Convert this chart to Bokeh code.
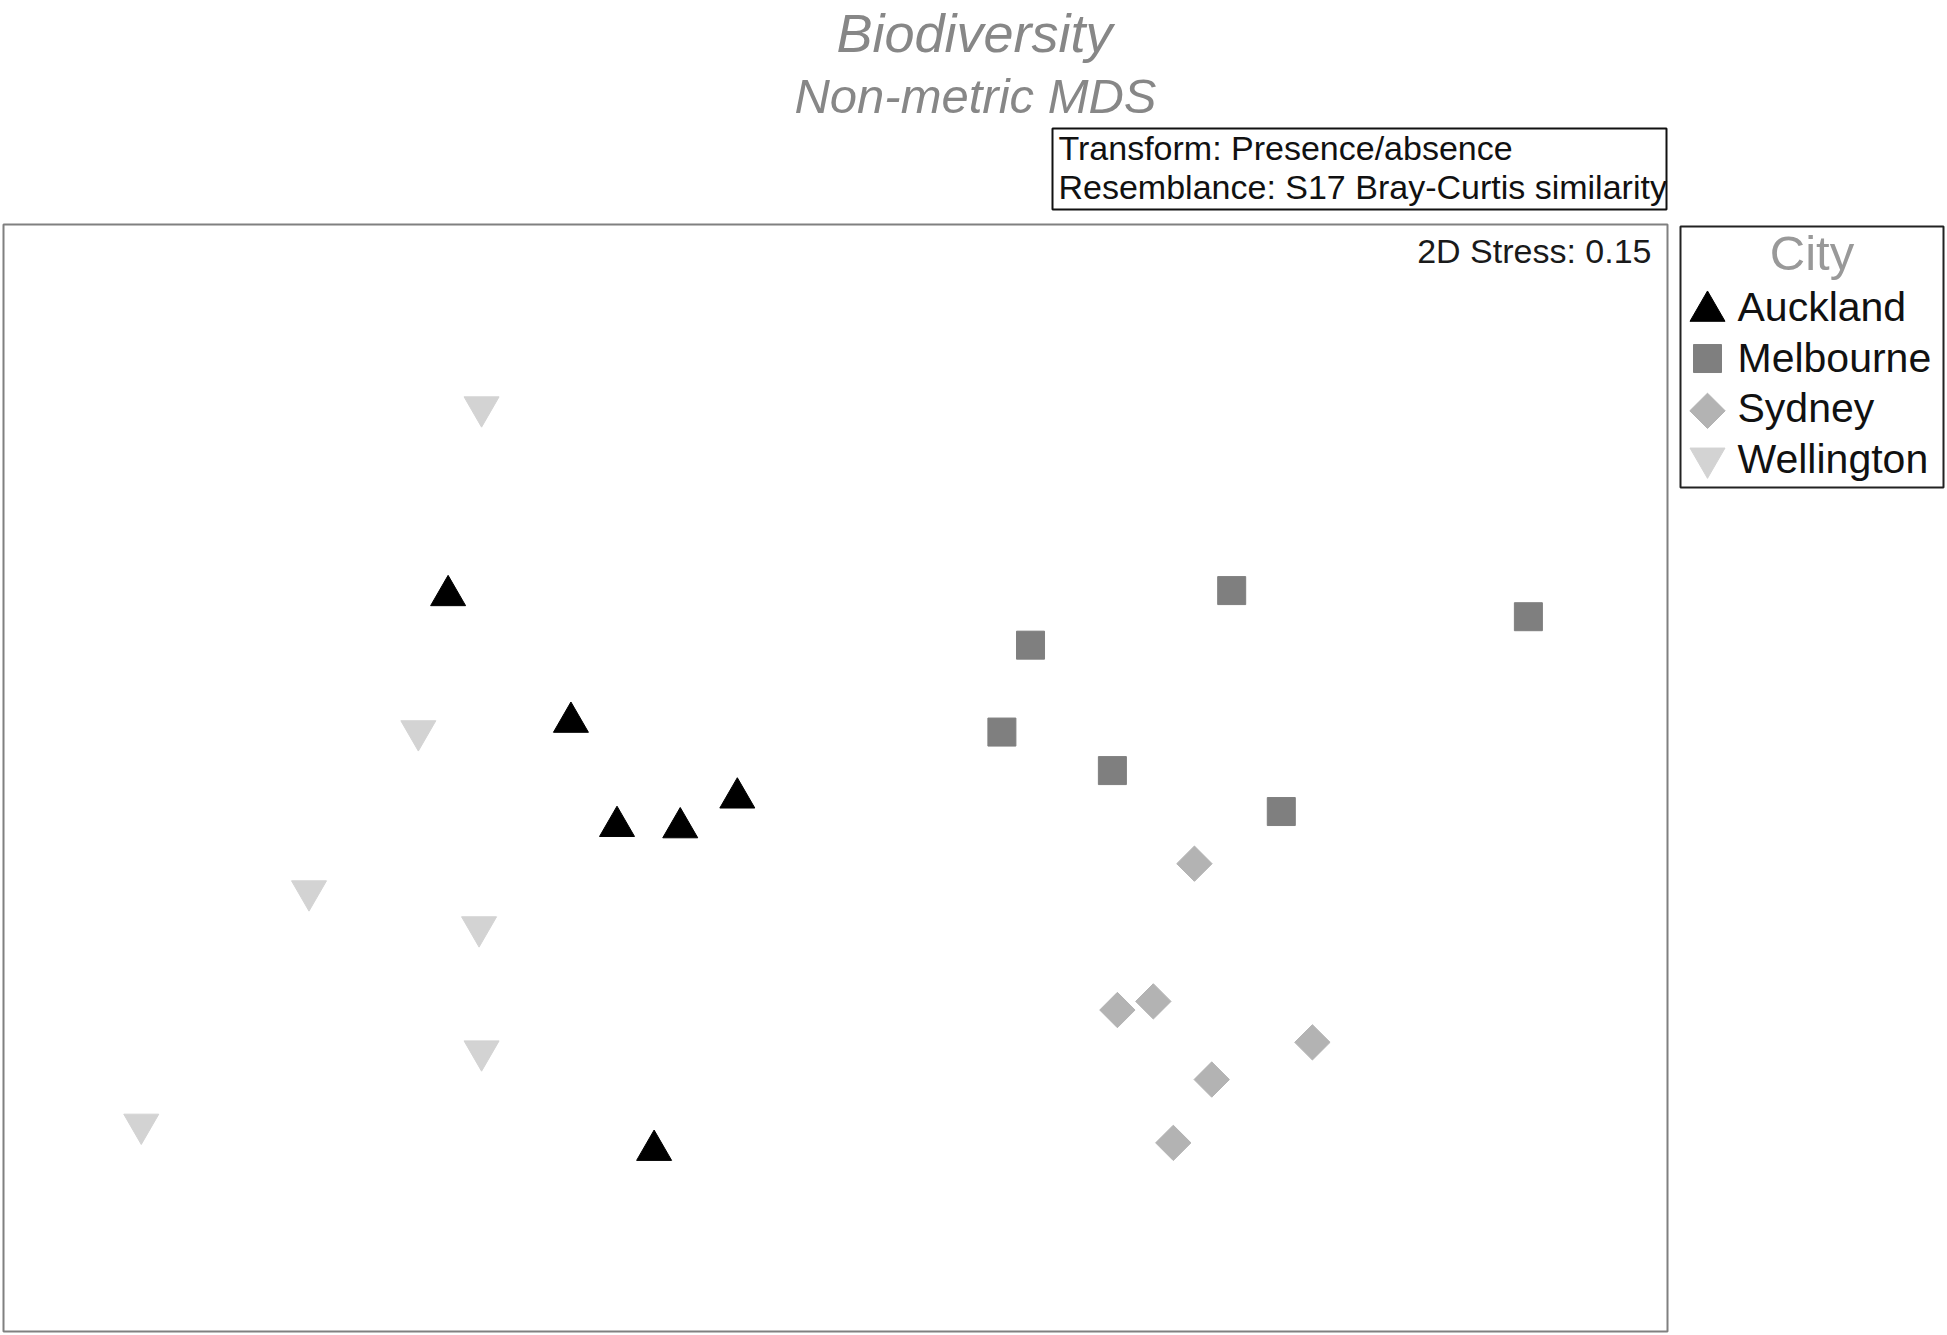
import math
from bokeh.plotting import figure
from bokeh.layouts import column, row
from bokeh.models import Range1d
from bokeh.core.properties import value
from bokeh.embed import file_html
from bokeh.resources import INLINE

# ---------------- data ----------------
cities = ["Auckland", "Melbourne", "Sydney", "Wellington"]
auckland_x = [26.72, 34.10, 36.87, 40.67, 44.10, 39.10]
auckland_y = [66.48, 55.04, 45.63, 45.51, 48.20, 16.37]
melbourne_x = [73.81, 61.72, 60.00, 66.64, 76.79, 91.64]
melbourne_y = [66.93, 62.00, 54.15, 50.67, 46.97, 64.57]
sydney_x = [71.57, 66.94, 69.10, 78.66, 72.61, 70.30]
sydney_y = [42.26, 29.04, 29.82, 26.12, 22.76, 17.04]
wellington_x = [28.73, 24.93, 18.36, 28.58, 28.73, 8.28]
wellington_y = [83.52, 54.26, 39.80, 36.55, 25.34, 18.72]
stress = 0.15
title = "Biodiversity"
subtitle = "Non-metric MDS"
info_lines = ["Transform: Presence/absence", "Resemblance: S17 Bray-Curtis similarity"]
legend_title = "City"

series = {
    "Auckland": (auckland_x, auckland_y),
    "Melbourne": (melbourne_x, melbourne_y),
    "Sydney": (sydney_x, sydney_y),
    "Wellington": (wellington_x, wellington_y),
}

# ---------------- styles ----------------
FONT = value("Liberation Sans")
styles = {
    "Auckland": dict(marker="triangle", size=35, color="#000000", angle=0.0, dy=5),
    "Melbourne": dict(marker="square", size=28, color="#7f7f7f", angle=0.0, dy=0),
    "Sydney": dict(marker="square", size=25, color="#b3b3b3", angle=math.pi / 4, dy=0),
    "Wellington": dict(marker="inverted_triangle", size=35, color="#d3d3d3", angle=0.0, dy=-5),
}

W, H = 1945, 1333
TOP_H = 222
MAIN_W = 1669
LEG_W = W - MAIN_W
BOT_H = H - TOP_H

common = dict(output_backend="svg", toolbar_location=None,
              x_axis_location=None, y_axis_location=None)

# ---------------- header (titles + info box) ----------------
t = figure(width=W, height=TOP_H, x_range=Range1d(0, W), y_range=Range1d(TOP_H, 0),
           min_border=0, **common)
t.outline_line_color = None
t.grid.visible = False
t.text(x=[974], y=[32], text=[title], text_align="center", text_baseline="alphabetic",
       text_font=FONT, text_font_style="italic", text_font_size=value("54px"),
       text_color="#878787")
t.text(x=[975], y=[95], text=[subtitle], text_align="center", text_baseline="alphabetic",
       text_font=FONT, text_font_style="italic", text_font_size=value("49px"),
       text_color="#878787")
t.quad(left=[1052], right=[1666], top=[128], bottom=[209],
       fill_color="white", line_color="#111111", line_width=2)
t.text(x=[1058, 1058], y=[147, 186], text=info_lines, text_align="left",
       text_baseline="alphabetic", text_font=FONT, text_font_size=value("34px"),
       text_color="#111111")

# ---------------- main MDS plot ----------------
p = figure(width=MAIN_W, height=BOT_H, x_range=Range1d(0, 100), y_range=Range1d(0, 100),
           min_border_left=3, min_border_right=2, min_border_top=2, min_border_bottom=2,
           **common)
p.grid.visible = False
p.outline_line_color = "#808080"
p.outline_line_width = 2
p.background_fill_color = "white"
p.border_fill_color = "white"

for city in cities:
    xs, ys = series[city]
    s = styles[city]
    p.scatter(xs, ys, marker=s["marker"], size=s["size"], angle=s["angle"],
              fill_color=s["color"], line_color=s["color"])

p.text(x=[99.04], y=[97.6], text=[f"2D Stress: {stress}"], text_align="right",
       text_baseline="alphabetic", text_font=FONT, text_font_size=value("34px"),
       text_color="#1a1a1a")

# ---------------- legend panel ----------------
lg = figure(width=LEG_W, height=BOT_H, x_range=Range1d(0, LEG_W), y_range=Range1d(BOT_H, 0),
            min_border=0, **common)
lg.outline_line_color = None
lg.grid.visible = False
lg.quad(left=[11], right=[LEG_W - 2], top=[2], bottom=[264],
        fill_color="white", line_color="#222222", line_width=2)
lg.text(x=[(11 + LEG_W - 2) / 2], y=[29], text=[legend_title], text_align="center",
        text_baseline="alphabetic", text_font=FONT, text_font_size=value("49px"),
        text_color="#999999")
for i, city in enumerate(cities):
    s = styles[city]
    lg.scatter([38], [82 + 52.5 * i + s["dy"]], marker=s["marker"], size=s["size"],
               angle=s["angle"], fill_color=s["color"], line_color=s["color"])
    lg.text(x=[68], y=[82.6 + 51 * i], text=[city], text_align="left",
            text_baseline="alphabetic", text_font=FONT, text_font_size=value("41px"),
            text_color="#111111")

layout = column(t, row(p, lg))
open("out.html", "w").write(file_html(layout, INLINE))
